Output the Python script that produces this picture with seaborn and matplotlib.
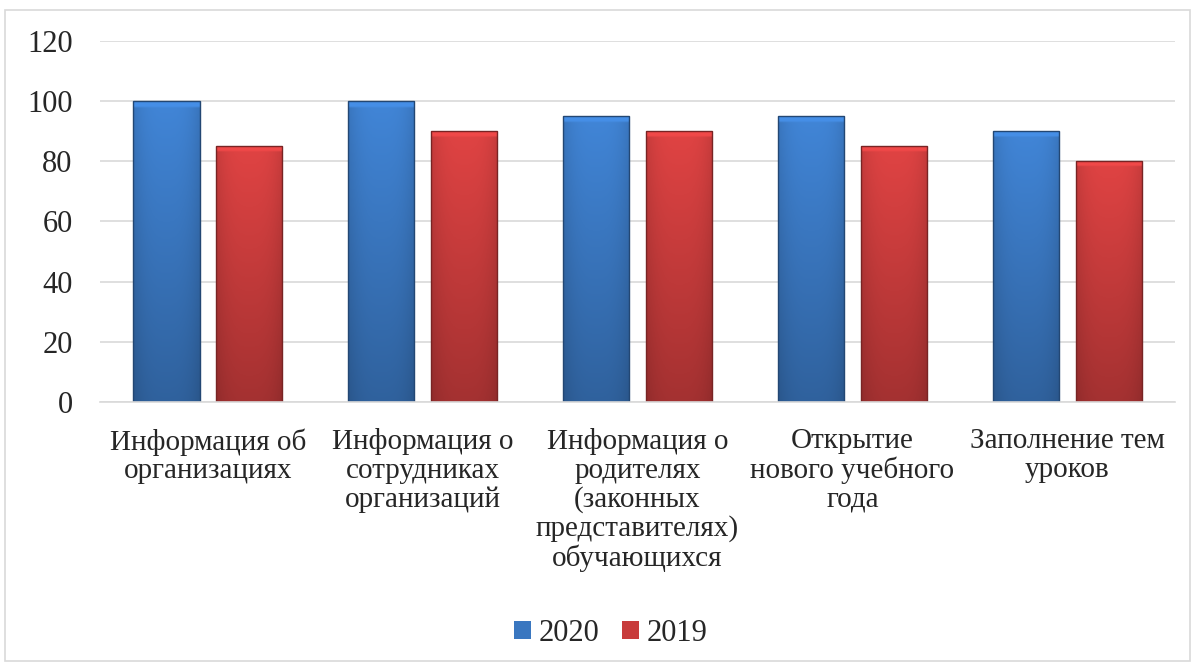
import numpy as np
import pandas as pd
import matplotlib
matplotlib.use("Agg")
import matplotlib.pyplot as plt
import matplotlib.colors as mcolors
from matplotlib.patches import Rectangle
import seaborn as sns

# Data
categories = [
    "Информация об\nорганизациях",
    "Информация о\nсотрудниках\nорганизаций",
    "Информация о\nродителях\n(законных\nпредставителях)\nобучающихся",
    "Открытие\nнового учебного\nгода",
    "Заполнение тем\nуроков",
]
values_2020 = [100, 100, 95, 95, 90]
values_2019 = [85, 90, 90, 85, 80]
years = ["2020", "2019"]

df = pd.DataFrame({
    "category": categories * 2,
    "year": [years[0]] * len(categories) + [years[1]] * len(categories),
    "value": values_2020 + values_2019,
})

palette = {"2020": "#3A77C0", "2019": "#C83C3C"}

sns.set_theme(style="white")
plt.rcParams["font.family"] = ["Liberation Serif", "DejaVu Serif"]

fig = plt.figure(figsize=(11.95, 6.63), dpi=100)
ax = fig.add_axes([0.084, 0.394, 0.899, 0.544])

sns.barplot(
    data=df, x="category", y="value", hue="year", palette=palette,
    width=0.77, gap=0.2, saturation=1, ax=ax, legend=True,
    edgecolor="none",
)

# gradient shading to mimic the bevelled bars
for patch in ax.patches:
    x0, y0 = patch.get_x(), patch.get_y()
    w, h = patch.get_width(), patch.get_height()
    if h <= 0:
        continue
    base = np.array(mcolors.to_rgb(patch.get_facecolor()))
    light = np.clip(base * 1.12, 0, 1)
    dark = base * 0.82
    n = 100
    t = np.linspace(0, 1, n)[:, None]
    vert = light * (1 - t[..., None]) + dark * t[..., None]  # top->bottom
    s = np.linspace(-1, 1, n)[None, :]
    horiz = 1 - 0.12 * np.abs(s) ** 3
    img = vert * horiz[..., None]
    img[:2] = np.clip(base * 1.2, 0, 1)  # light bevel on top
    img = np.clip(img, 0, 1)
    im = ax.imshow(img, extent=[x0, x0 + w, y0, y0 + h], origin="upper",
                   aspect="auto", zorder=patch.get_zorder() + 0.1)
    im.set_clip_path(patch)
    outline = Rectangle((x0, y0), w, h, fill=False,
                        edgecolor=base * 0.6, linewidth=1.0,
                        zorder=patch.get_zorder() + 0.2)
    ax.add_patch(outline)

ax.set_xlim(-0.5, len(categories) - 0.5)
ax.set_ylim(0, 120)
ax.set_yticks(range(0, 121, 20))
ax.yaxis.grid(True, color="#d9d9d9", linewidth=1.2)
ax.set_axisbelow(True)
for side in ["top", "right", "left"]:
    ax.spines[side].set_visible(False)
ax.spines["bottom"].set_color("#d9d9d9")
ax.spines["bottom"].set_linewidth(1.2)
ax.tick_params(axis="y", length=0, pad=20, labelsize=22)
ax.tick_params(axis="x", length=0, pad=19, labelsize=21)
for lbl in ax.get_xticklabels():
    lbl.set_linespacing(1.12)
ax.set_xlabel("")
ax.set_ylabel("")

handles, labels = ax.get_legend_handles_labels()
ax.legend_.remove()
fig.legend(handles, labels, loc="center", bbox_to_anchor=(0.511, 0.045),
           ncol=2, frameon=False, fontsize=22, handlelength=0.56,
           handleheight=0.56, handletextpad=0.25, columnspacing=0.75)

fig.add_artist(Rectangle((0.004, 0.003), 0.992, 0.982, transform=fig.transFigure,
                         fill=False, edgecolor="#d9d9d9", linewidth=1.2))

fig.savefig("out.png", dpi=100, facecolor="white")
